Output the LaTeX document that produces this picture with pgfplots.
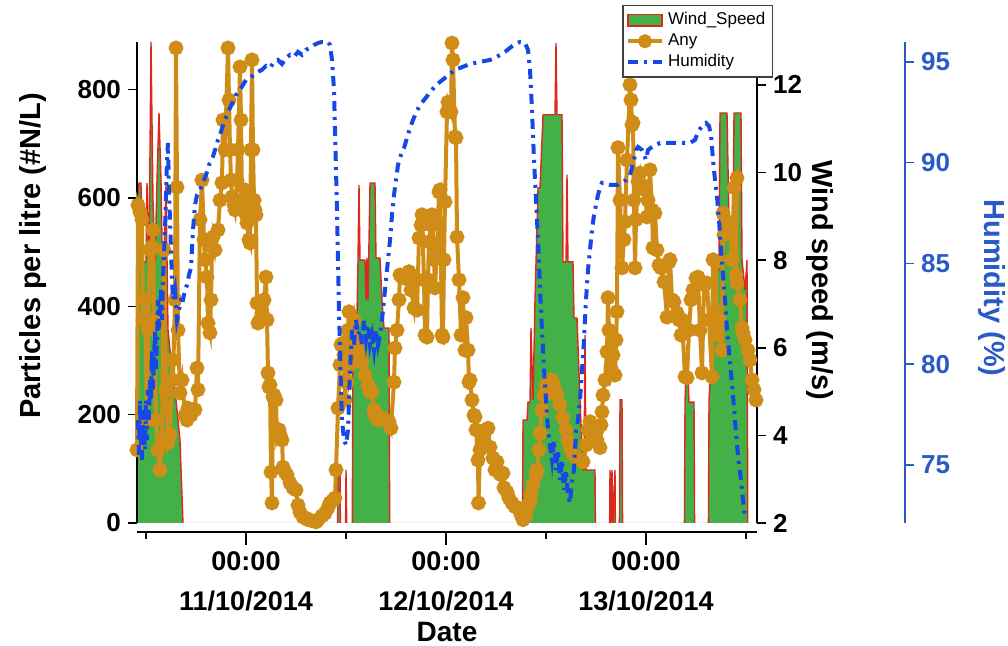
\documentclass[border=0pt]{standalone}
\usepackage{fontspec}
\setmainfont{Liberation Sans}
\usepackage{pgfplots}
\usepackage{pgfplotstable}
\pgfplotsset{compat=1.18}
\definecolor{windgreen}{RGB}{68,176,72}
\definecolor{windred}{RGB}{222,40,30}
\definecolor{anyorange}{RGB}{207,140,22}
\definecolor{humblue}{RGB}{22,72,232}
\definecolor{humaxis}{RGB}{40,90,200}
\pgfplotsset{
  base/.style={scale only axis, width=310pt, height=240.5pt, anchor=south west,
    xmin=-13.08, xmax=61.32},
  tickfont/.style={font=\bfseries\fontsize{13}{13}\selectfont},
}
\pgfplotstableread{
h w
-13.08 9.37
-12.84 9.76
-12.60 9.76
-12.48 7.96
-12.00 7.96
-11.88 9.76
-11.64 7.96
-11.40 12.98
-11.16 9.37
-10.92 7.96
-10.68 9.83
-10.44 11.36
-10.20 9.83
-9.96 7.09
-9.60 9.72
-9.36 6.41
-8.88 5.49
-8.40 4.81
-7.92 3.89
-7.56 2.0
-7.44 0
10.92 0
11.04 3.21
11.28 3.21
11.40 0
11.88 0
12.00 3.21
12.24 0
12.72 0
12.84 6.79
13.32 6.79
13.44 8.0
13.56 9.72
13.68 8.0
14.28 8.0
14.40 7.09
14.52 8.05
14.64 7.09
14.88 9.76
15.48 9.76
15.60 8.05
16.08 8.05
16.32 7.09
16.56 6.45
17.16 6.45
17.28 0
33.12 0
33.24 4.35
33.72 4.35
33.84 4.76
34.08 4.76
34.20 6.45
34.44 4.81
34.68 7.09
35.04 9.65
35.28 9.65
35.64 11.32
37.08 11.32
37.20 12.96
37.32 11.32
37.92 11.32
38.04 7.96
38.40 7.96
38.52 9.95
38.64 7.96
39.24 7.96
39.36 6.68
39.72 6.68
40.08 4.81
40.44 3.21
40.56 3.21
40.68 6.29
40.80 3.21
41.88 3.21
42.00 0
43.56 0
43.68 3.21
43.80 2.0
43.92 3.21
44.04 2.0
44.28 3.21
44.40 0
44.76 0
44.88 4.81
45.12 4.81
45.24 0
52.56 0
52.68 4.76
52.92 6.06
53.16 4.76
53.76 4.76
53.88 0
55.44 0
55.56 4.81
55.92 5.95
56.40 7.78
56.76 7.78
56.88 11.36
57.72 11.36
57.96 8.87
58.44 8.87
58.56 11.36
59.40 11.36
59.52 8.0
59.88 7.32
60.12 8.0
60.24 0
}\windtable
\begin{document}
\begin{tikzpicture}
\useasboundingbox (0,0) rectangle (504pt,323pt);

% ---------- wind speed (right axis) ----------
\begin{axis}[base, at={(68.5pt,61.5pt)}, ymin=2, ymax=12.98,
  axis x line=none, axis y line*=right,
  ytick={2,4,6,8,10,12}, yticklabels={2,4,6,8,10,12},
  tick align=outside, major tick length=4.5pt,
  yticklabel style={tickfont},
  y axis line style={black, line width=0.75pt},
  tick style={black, line width=0.75pt}]
\addplot[fill=windgreen, draw=none] table[x=h, y=w] {\windtable} \closedcycle;
\addplot[draw=windred, line width=0.7pt] table[x=h, y=w] {\windtable};
\end{axis}

% ---------- particles (left axis) ----------
\begin{axis}[base, at={(68.5pt,61.5pt)}, ymin=0, ymax=888,
  axis x line=none, axis y line*=left,
  ytick={0,200,400,600,800}, yticklabels={0,200,400,600,800},
  tick align=outside, major tick length=4.5pt,
  yticklabel style={tickfont},
  y axis line style={black, line width=0.75pt},
  tick style={black, line width=0.75pt}, clip=false]
\addplot[anyorange, line width=2pt, mark=*, mark size=2.7pt, mark options={solid, fill=anyorange, draw=anyorange}] coordinates {
(-13.08,135) (-12.96,587) (-12.72,574) (-12.48,560) (-12.36,375) (-12.12,412) (-11.88,190) (-11.76,356) (-11.52,504) (-11.28,510) (-11.16,541) (-11.04,375) (-10.80,190) (-10.56,135) (-10.32,98) (-10.08,153) (-9.84,504) (-9.60,246) (-9.36,148) (-9.12,163) (-8.88,301) (-8.76,264) (-8.52,412) (-8.40,877) (-8.28,620) (-8.16,356) (-7.92,240) (-7.68,264) (-7.32,199) (-7.08,190) (-6.96,212) (-6.60,199) (-6.36,209) (-6.12,209) (-5.88,286) (-5.76,246) (-5.52,560) (-5.28,633) (-5.04,523) (-4.92,486) (-4.68,454) (-4.56,369) (-4.32,351) (-4.20,412) (-4.08,510) (-3.96,528) (-3.72,504) (-3.36,541) (-3.12,596) (-2.88,628) (-2.76,744) (-2.52,689) (-2.16,877) (-2.04,781) (-1.92,689) (-1.80,633) (-1.68,602) (-1.44,587) (-1.32,578) (-1.08,633) (-0.96,689) (-0.72,842) (-0.60,744) (-0.48,596) (-0.36,578) (-0.12,615) (0.00,569) (0.12,554) (0.36,523) (0.48,517) (0.60,689) (0.72,855) (0.84,689) (0.96,596) (1.08,578) (1.20,569) (1.32,406) (1.44,369) (1.68,375) (1.92,388) (2.16,412) (2.40,454) (2.52,375) (2.64,277) (2.76,251) (2.88,255) (3.00,94) (3.12,37) (3.24,233) (3.36,236) (3.60,227) (3.72,159) (3.96,172) (4.08,163) (4.32,153) (4.44,103) (4.68,94) (4.92,89) (5.28,74) (5.64,65) (6.00,61) (6.24,33) (6.48,20) (6.84,11) (7.20,9) (7.44,6) (7.92,4) (8.40,2) (8.64,6) (9.12,13) (9.48,18) (9.84,28) (10.08,37) (10.44,42) (10.68,46) (10.80,98) (11.04,212) (11.28,292) (11.40,329) (11.64,332) (11.76,310) (11.88,227) (12.00,264) (12.12,259) (12.24,356) (12.36,390) (12.48,292) (12.60,319) (12.72,347) (12.96,375) (13.20,338) (13.44,329) (13.68,310) (13.92,297) (14.28,273) (14.64,255) (14.88,242) (15.12,242) (15.36,209) (15.48,199) (15.84,190) (16.32,194) (16.68,190) (17.16,187) (17.40,175) (17.76,260) (17.88,323) (18.12,356) (18.36,412) (18.48,458) (18.72,454) (19.08,452) (19.32,458) (19.56,464) (19.80,430) (20.16,397) (20.40,449) (20.52,393) (20.76,526) (21.00,550) (21.12,569) (21.36,449) (21.48,347) (21.72,343) (21.84,449) (21.96,519) (22.20,550) (22.32,569) (22.56,486) (22.68,434) (22.92,504) (23.16,611) (23.28,615) (23.52,347) (23.64,343) (23.76,486) (23.88,593) (24.12,759) (24.24,777) (24.60,759) (24.72,886) (24.84,855) (25.08,713) (25.20,711) (25.32,528) (25.56,449) (25.80,347) (26.04,416) (26.28,319) (26.40,379) (26.64,319) (26.76,260) (26.88,264) (27.12,227) (27.36,199) (27.48,196) (27.60,172) (27.84,116) (27.90,37) (28.08,135) (28.44,157) (28.80,172) (29.04,175) (29.28,140) (29.64,120) (29.88,98) (30.12,113) (30.36,94) (30.60,89) (30.84,92) (30.96,65) (31.32,57) (31.56,46) (31.92,37) (32.28,30) (32.64,28) (33.00,15) (33.24,6) (33.60,15) (33.84,33) (34.08,37) (34.20,52) (34.44,70) (34.80,89) (34.92,98) (35.16,135) (35.28,166) (35.52,209) (35.76,236) (36.00,255) (36.36,246) (36.60,264) (36.84,260) (37.08,246) (37.32,236) (37.68,218) (38.04,194) (38.40,172) (38.64,153) (38.88,139) (39.24,126) (39.72,120) (40.08,116) (40.44,113) (40.80,144) (41.04,172) (41.28,187) (41.52,172) (41.88,163) (42.12,153) (42.24,175) (42.48,139) (42.60,181) (42.72,205) (42.84,236) (43.08,264) (43.32,316) (43.44,416) (43.56,356) (43.80,286) (44.04,310) (44.28,273) (44.40,338) (44.52,390) (44.64,693) (44.88,596) (45.12,471) (45.36,523) (45.48,556) (45.72,670) (46.08,809) (46.20,781) (46.32,735) (46.44,739) (46.56,596) (46.68,471) (46.80,560) (47.04,630) (47.28,646) (47.52,624) (47.88,615) (48.12,565) (48.24,596) (48.48,652) (48.72,578) (48.84,508) (49.08,572) (49.32,504) (49.56,476) (49.80,471) (50.16,445) (50.52,380) (50.76,482) (50.88,486) (51.12,412) (51.36,408) (51.72,388) (51.96,375) (52.20,347) (52.32,375) (52.68,270) (52.92,268) (53.16,356) (53.40,412) (53.64,430) (54.00,452) (54.24,454) (54.48,356) (54.72,277) (54.96,440) (55.32,443) (55.56,375) (55.92,270) (56.04,486) (56.40,482) (56.52,347) (56.76,375) (57.12,319) (57.24,572) (57.36,532) (57.72,556) (58.08,554) (58.32,486) (58.56,619) (58.92,637) (58.80,458) (58.92,443) (59.28,412) (59.52,360) (59.64,351) (59.88,338) (60.24,319) (60.48,301) (60.72,264) (60.96,246) (61.20,227)
};
\end{axis}

% ---------- humidity data + legend ----------
\begin{axis}[base, at={(68.5pt,61.5pt)}, ymin=72.12, ymax=95.99,
  hide axis, clip=false,
  legend style={at={(1.0258,1.0769)}, anchor=north east,
    font=\fontsize{8.5}{10}\selectfont, draw=black!75, line width=0.6pt,
    fill=white, inner sep=1.5pt, row sep=-1pt},
  legend cell align=left]
\addlegendimage{area legend, fill=windgreen, draw=windred, line width=0.8pt}
\addlegendentry{Wind\_Speed}
\addlegendimage{anyorange, line width=2pt, mark=*, mark size=2.5pt, mark options={fill=anyorange, draw=anyorange}}
\addlegendentry{Any}
\addplot[humblue, line width=2pt, dash pattern=on 5pt off 3pt on 1.5pt off 3pt] coordinates {
(-12.96,77.23) (-12.84,75.50) (-12.72,78.23) (-12.60,76.24) (-12.48,75.25) (-12.36,77.73) (-12.24,76.74) (-12.12,75.74) (-12.00,78.23) (-11.88,76.24) (-11.76,78.72) (-11.64,77.23) (-11.52,79.22) (-11.40,78.23) (-11.28,80.71) (-11.16,78.72) (-11.04,80.21) (-10.92,81.70) (-10.80,79.71) (-10.68,81.20) (-10.56,83.19) (-10.44,81.70) (-10.32,82.69) (-10.20,83.69) (-10.08,82.20) (-9.96,84.18) (-9.72,86.66) (-9.48,90.14) (-9.36,90.98) (-9.24,88.65) (-9.12,87.16) (-9.00,85.67) (-8.88,84.18) (-8.76,83.19) (-8.52,83.69) (-8.28,82.20) (-8.04,82.69) (-7.80,83.19) (-7.56,83.19) (-7.32,83.69) (-7.08,83.93) (-6.84,84.43) (-6.60,84.78) (-6.36,86.66) (-6.12,87.90) (-5.88,88.40) (-5.52,88.65) (-5.16,89.00) (-4.80,89.39) (-4.44,89.89) (-4.08,90.14) (-3.72,90.63) (-3.36,91.13) (-3.00,91.53) (-2.64,92.02) (-2.28,92.37) (-1.92,92.72) (-1.56,93.02) (-1.20,93.36) (-0.72,93.61) (-0.36,93.86) (0,94.11) (0.48,94.21) (0.96,94.36) (1.44,94.51) (1.92,94.61) (2.40,94.80) (2.88,94.70) (3.36,95.00) (3.84,95.10) (4.32,94.90) (4.80,95.20) (5.28,95.35) (5.76,95.25) (6.24,95.50) (6.72,95.35) (7.20,95.60) (7.68,95.70) (8.16,95.84) (8.64,95.94) (9.12,95.99) (9.84,95.99) (10.08,95.84) (10.32,95.10) (10.56,93.61) (10.68,91.63) (10.80,89.64) (10.92,87.66) (11.04,85.17) (11.16,82.69) (11.28,80.71) (11.40,78.72) (11.52,77.23) (11.76,76.24) (12.00,75.99) (12.24,76.74) (12.36,78.23) (12.48,79.71) (12.60,80.71) (12.72,81.70) (12.96,80.96) (13.20,82.20) (13.44,81.45) (13.68,81.70) (13.92,80.96) (14.16,82.20) (14.40,81.20) (14.64,81.95) (14.88,80.96) (15.12,81.45) (15.36,80.71) (15.60,81.70) (15.84,80.96) (16.08,81.45) (16.32,82.20) (16.56,83.19) (16.80,84.18) (17.04,85.17) (17.28,86.17) (17.52,87.41) (17.76,88.40) (18.00,89.14) (18.24,89.89) (18.60,90.39) (18.96,90.73) (19.32,91.23) (19.68,91.73) (20.04,92.12) (20.40,92.47) (20.88,92.87) (21.36,93.11) (21.84,93.36) (22.32,93.61) (22.80,93.86) (23.28,94.01) (23.88,94.21) (24.48,94.41) (25.08,94.61) (25.68,94.70) (26.28,94.80) (26.88,94.90) (28.08,95.00) (29.28,95.10) (29.88,95.20) (30.48,95.35) (31.08,95.50) (31.68,95.70) (32.28,95.89) (32.88,95.99) (33.48,95.94) (33.84,95.60) (34.08,94.61) (34.32,92.62) (34.56,90.14) (34.80,88.15) (35.04,86.17) (35.28,83.69) (35.52,81.70) (35.76,79.71) (36.00,78.23) (36.24,76.74) (36.48,75.99) (36.72,75.25) (36.96,76.24) (37.20,74.75) (37.44,75.74) (37.68,74.26) (37.92,75.25) (38.16,73.76) (38.40,74.75) (38.64,73.51) (38.88,73.11) (39.12,74.26) (39.36,74.75) (39.60,76.74) (39.84,77.23) (40.08,78.23) (40.32,79.71) (40.56,81.20) (40.80,83.19) (41.04,84.68) (41.28,85.67) (41.52,86.66) (41.76,87.41) (42.00,87.90) (42.24,88.40) (42.48,88.75) (42.72,89.00) (43.68,88.90) (44.64,88.90) (45.60,89.14) (46.08,89.39) (46.56,90.14) (46.80,90.63) (47.04,90.78) (47.52,90.63) (48.00,90.14) (48.24,90.63) (48.72,90.78) (49.20,90.88) (49.68,90.98) (53.28,90.98) (53.88,91.13) (54.24,91.53) (54.72,91.82) (55.20,91.97) (55.56,91.82) (55.80,91.38) (56.04,90.14) (56.28,89.14) (56.52,88.30) (56.76,87.16) (57.00,85.67) (57.24,84.43) (57.48,83.19) (57.72,81.70) (58.08,80.06) (58.44,78.47) (58.68,77.23) (58.92,75.99) (59.16,75.00) (59.40,74.26) (59.64,73.26) (59.88,72.37)
};
\addlegendentry{Humidity}
\end{axis}

% ---------- humidity spine (offset) ----------
\begin{axis}[base, at={(142.5pt,61.5pt)}, ymin=72.12, ymax=95.99,
  axis x line=none, axis y line*=right,
  ytick={75,80,85,90,95}, yticklabels={75,80,85,90,95},
  tick align=outside, major tick length=4.5pt,
  yticklabel style={tickfont, text=humaxis},
  y axis line style={humaxis, line width=0.75pt},
  tick style={humaxis, line width=0.75pt}]
\end{axis}

% ---------- date axis (offset) ----------
\begin{axis}[base, at={(68.5pt,57pt)}, ymin=0, ymax=1,
  axis y line=none, axis x line*=bottom,
  xtick={0,24,48}, minor xtick={-12,12,36,60},
  xticklabels={{00:00\\11/10/2014},{00:00\\12/10/2014},{00:00\\13/10/2014}},
  tick align=outside, major tick length=6.5pt, minor tick length=3.5pt,
  xticklabel style={align=center, font=\bfseries\fontsize{13.5}{20}\selectfont},
  x axis line style={black, line width=0.75pt},
  tick style={black, line width=0.75pt}]
\end{axis}

% ---------- axis titles ----------
\node[rotate=90, font=\bfseries\fontsize{14.5}{14.5}\selectfont] at (16.5pt,195pt) {Particles per litre (\#N/L)};
\node[rotate=-90, font=\bfseries\fontsize{14.5}{14.5}\selectfont] at (410pt,183pt) {Wind speed (m/s)};
\node[rotate=-90, text=humaxis, font=\bfseries\fontsize{14.5}{14.5}\selectfont] at (496pt,179pt) {Humidity (\%)};
\node[font=\bfseries\fontsize{14}{14}\selectfont] at (223.5pt,7pt) {Date};
\end{tikzpicture}
\end{document}
